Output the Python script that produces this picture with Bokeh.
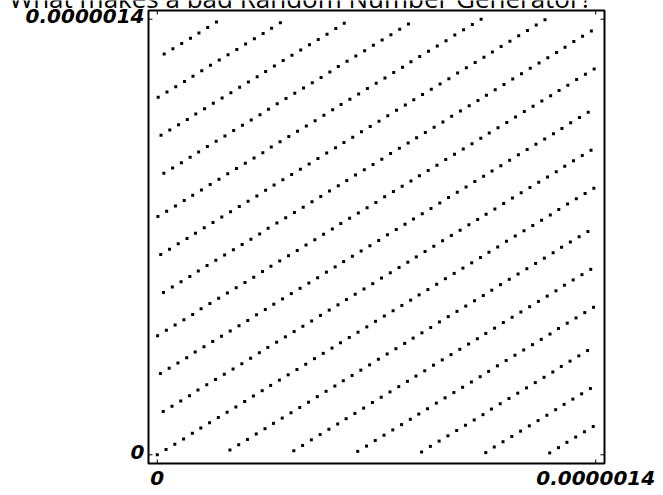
from bokeh.plotting import figure
from bokeh.models import Range1d, Label
from bokeh.embed import file_html
from bokeh.resources import INLINE

title_text = "What makes a bad Random Number Generator?"

# axis ticks (data units)
tick_vals = [0.0, 1.4e-6]
tick_labels = ["0", "0.0000014"]

# points, in units of 1e-9 (grouped by diagonal streak)
x_e9 = [
    1253, 1281, 1308, 1336, 1364, 1392,
    1049, 1076, 1104, 1132, 1160, 1188, 1216, 1244, 1272, 1299, 1327, 1355, 1383,
    844, 872, 900, 928, 956, 984, 1012, 1040, 1067, 1095, 1123, 1151, 1179, 1207, 1235, 1263, 1290, 1318, 1346, 1374,
    640, 668, 696, 724, 752, 780, 808, 835, 863, 891, 919, 947, 975, 1003, 1031, 1058, 1086, 1114, 1142, 1170, 1198, 1226, 1254, 1281, 1309, 1337, 1365, 1393,
    436, 464, 492, 520, 548, 576, 603, 631, 659, 687, 715, 743, 771, 799, 826, 854, 882, 910, 938, 966, 994, 1022, 1049, 1077, 1105, 1133, 1161, 1189, 1217, 1245, 1273, 1300, 1328, 1356, 1384,
    232, 260, 288, 316, 344, 371, 399, 427, 455, 483, 511, 539, 567, 594, 622, 650, 678, 706, 734, 762, 790, 817, 845, 873, 901, 929, 957, 985, 1013, 1041, 1068, 1096, 1124, 1152, 1180, 1208, 1236, 1264, 1291, 1319, 1347, 1375,
    0, 28, 56, 84, 112, 139, 167, 195, 223, 251, 279, 307, 335, 362, 390, 418, 446, 474, 502, 530, 558, 585, 613, 641, 669, 697, 725, 753, 781, 809, 836, 864, 892, 920, 948, 976, 1004, 1032, 1059, 1087, 1115, 1143, 1171, 1199, 1227, 1255, 1282, 1310, 1338, 1366, 1394,
    19, 47, 75, 103, 130, 158, 186, 214, 242, 270, 298, 326, 353, 381, 409, 437, 465, 493, 521, 549, 577, 604, 632, 660, 688, 716, 744, 772, 800, 827, 855, 883, 911, 939, 967, 995, 1023, 1050, 1078, 1106, 1134, 1162, 1190, 1218, 1246, 1274, 1301, 1329, 1357, 1385,
    10, 38, 66, 94, 121, 149, 177, 205, 233, 261, 289, 317, 345, 372, 400, 428, 456, 484, 512, 540, 568, 595, 623, 651, 679, 707, 735, 763, 791, 818, 846, 874, 902, 930, 958, 986, 1014, 1042, 1069, 1097, 1125, 1153, 1181, 1209, 1237, 1265, 1292, 1320, 1348, 1376,
    1, 29, 57, 85, 113, 140, 168, 196, 224, 252, 280, 308, 336, 363, 391, 419, 447, 475, 503, 531, 559, 586, 614, 642, 670, 698, 726, 754, 782, 810, 837, 865, 893, 921, 949, 977, 1005, 1033, 1060, 1088, 1116, 1144, 1172, 1200, 1228, 1256, 1283, 1311, 1339, 1367, 1395,
    20, 48, 76, 104, 131, 159, 187, 215, 243, 271, 299, 327, 354, 382, 410, 438, 466, 494, 522, 550, 578, 605, 633, 661, 689, 717, 745, 773, 801, 828, 856, 884, 912, 940, 968, 996, 1024, 1051, 1079, 1107, 1135, 1163, 1191, 1219, 1247, 1275, 1302, 1330, 1358, 1386,
    11, 39, 67, 95, 122, 150, 178, 206, 234, 262, 290, 318, 346, 373, 401, 429, 457, 485, 513, 541, 569, 596, 624, 652, 680, 708, 736, 764, 792, 819, 847, 875, 903, 931, 959, 987, 1015, 1043, 1070, 1098, 1126, 1154, 1182, 1210, 1238,
    2, 30, 58, 86, 113, 141, 169, 197, 225, 253, 281, 309, 337, 364, 392, 420, 448, 476, 504, 532, 560, 587, 615, 643, 671, 699, 727, 755, 783, 810, 838, 866, 894, 922, 950, 978, 1006, 1034,
    21, 49, 77, 105, 132, 160, 188, 216, 244, 272, 300, 328, 355, 383, 411, 439, 467, 495, 523, 551, 578, 606, 634, 662, 690, 718, 746, 774, 802,
    12, 40, 68, 96, 123, 151, 179, 207, 235, 263, 291, 319, 346, 374, 402, 430, 458, 486, 514, 542, 570, 597,
    3, 31, 59, 87, 114, 142, 170, 198, 226, 254, 282, 310, 338, 365, 393,
    22, 50, 78, 106, 133, 161, 189,
]
y_e9 = [
    6, 23, 40, 57, 74, 91,
    7, 25, 42, 59, 76, 93, 110, 127, 145, 162, 179, 196, 213,
    9, 27, 44, 61, 78, 95, 112, 129, 147, 164, 181, 198, 215, 232, 249, 266, 284, 301, 318, 335,
    11, 28, 46, 63, 80, 97, 114, 131, 148, 166, 183, 200, 217, 234, 251, 268, 286, 303, 320, 337, 354, 371, 388, 406, 423, 440, 457, 474,
    13, 30, 48, 65, 82, 99, 116, 133, 150, 168, 185, 202, 219, 236, 253, 270, 288, 305, 322, 339, 356, 373, 390, 407, 425, 442, 459, 476, 493, 510, 527, 545, 562, 579, 596,
    15, 32, 49, 67, 84, 101, 118, 135, 152, 169, 187, 204, 221, 238, 255, 272, 289, 307, 324, 341, 358, 375, 392, 409, 427, 444, 461, 478, 495, 512, 529, 547, 564, 581, 598, 615, 632, 649, 667, 684, 701, 718,
    0, 17, 34, 51, 69, 86, 103, 120, 137, 154, 171, 189, 206, 223, 240, 257, 274, 291, 309, 326, 343, 360, 377, 394, 411, 429, 446, 463, 480, 497, 514, 531, 548, 566, 583, 600, 617, 634, 651, 668, 686, 703, 720, 737, 754, 771, 788, 806, 823, 840, 857,
    139, 156, 173, 190, 208, 225, 242, 259, 276, 293, 310, 328, 345, 362, 379, 396, 413, 430, 448, 465, 482, 499, 516, 533, 550, 568, 585, 602, 619, 636, 653, 670, 688, 705, 722, 739, 756, 773, 790, 808, 825, 842, 859, 876, 893, 910, 927, 945, 962, 979,
    261, 278, 295, 312, 330, 347, 364, 381, 398, 415, 432, 450, 467, 484, 501, 518, 535, 552, 569, 587, 604, 621, 638, 655, 672, 689, 707, 724, 741, 758, 775, 792, 809, 827, 844, 861, 878, 895, 912, 929, 947, 964, 981, 998, 1015, 1032, 1049, 1067, 1084, 1101,
    383, 400, 417, 434, 451, 469, 486, 503, 520, 537, 554, 571, 589, 606, 623, 640, 657, 674, 691, 709, 726, 743, 760, 777, 794, 811, 829, 846, 863, 880, 897, 914, 931, 949, 966, 983, 1000, 1017, 1034, 1051, 1068, 1086, 1103, 1120, 1137, 1154, 1171, 1188, 1206, 1223, 1240,
    522, 539, 556, 573, 591, 608, 625, 642, 659, 676, 693, 710, 728, 745, 762, 779, 796, 813, 830, 848, 865, 882, 899, 916, 933, 950, 968, 985, 1002, 1019, 1036, 1053, 1070, 1088, 1105, 1122, 1139, 1156, 1173, 1190, 1208, 1225, 1242, 1259, 1276, 1293, 1310, 1328, 1345, 1362,
    644, 661, 678, 695, 712, 730, 747, 764, 781, 798, 815, 832, 850, 867, 884, 901, 918, 935, 952, 970, 987, 1004, 1021, 1038, 1055, 1072, 1090, 1107, 1124, 1141, 1158, 1175, 1192, 1209, 1227, 1244, 1261, 1278, 1295, 1312, 1329, 1347, 1364, 1381, 1398,
    766, 783, 800, 817, 834, 851, 869, 886, 903, 920, 937, 954, 971, 989, 1006, 1023, 1040, 1057, 1074, 1091, 1109, 1126, 1143, 1160, 1177, 1194, 1211, 1229, 1246, 1263, 1280, 1297, 1314, 1331, 1349, 1366, 1383, 1400,
    905, 922, 939, 956, 973, 991, 1008, 1025, 1042, 1059, 1076, 1093, 1111, 1128, 1145, 1162, 1179, 1196, 1213, 1230, 1248, 1265, 1282, 1299, 1316, 1333, 1350, 1368, 1385,
    1027, 1044, 1061, 1078, 1095, 1112, 1130, 1147, 1164, 1181, 1198, 1215, 1232, 1250, 1267, 1284, 1301, 1318, 1335, 1352, 1370, 1387,
    1149, 1166, 1183, 1200, 1217, 1234, 1252, 1269, 1286, 1303, 1320, 1337, 1354, 1371, 1389,
    1288, 1305, 1322, 1339, 1356, 1373, 1391,
]

xs = [v * 1e-9 for v in x_e9]
ys = [v * 1e-9 for v in y_e9]

# ---- layout (pixels) ----
W, H = 660, 493
BOX_L, BOX_R, BOX_T, BOX_B = 148, 604, 10, 463
TITLE_CX, TITLE_Y = 300, -3
pad = 0.02 * tick_vals[1]
lo, hi = tick_vals[0] - pad, tick_vals[1] + pad
sx = (BOX_R - BOX_L) / (hi - lo)
sy = (BOX_B - BOX_T) / (hi - lo)
x_start = lo - BOX_L / sx
y_end = hi + BOX_T / sy

p = figure(
    width=W, height=H,
    x_range=Range1d(x_start, x_start + W / sx),
    y_range=Range1d(y_end - H / sy, y_end),
    x_axis_type=None, y_axis_type=None, min_border=0,
    output_backend="svg", toolbar_location=None,
    outline_line_color=None, background_fill_color="white", border_fill_color="white",
)

# frame box
p.quad(left=lo, right=hi, bottom=lo, top=hi, fill_color=None, line_color="black", line_width=2)

# inward frame ticks on all four sides
tl_x, tl_y = 4 / sx, 4 / sy
n = len(tick_vals)
p.segment(x0=tick_vals, y0=[lo] * n, x1=tick_vals, y1=[lo + tl_y] * n, line_color="black", line_width=1)
p.segment(x0=tick_vals, y0=[hi] * n, x1=tick_vals, y1=[hi - tl_y] * n, line_color="black", line_width=1)
p.segment(x0=[lo] * n, y0=tick_vals, x1=[lo + tl_x] * n, y1=tick_vals, line_color="black", line_width=1)
p.segment(x0=[hi] * n, y0=tick_vals, x1=[hi - tl_x] * n, y1=tick_vals, line_color="black", line_width=1)

# data points
p.scatter(xs, ys, marker="square", size=3, fill_color="black", line_color=None)

# tick labels
lab_style = dict(text_font="DejaVu Sans", text_font_style="bold italic",
                 text_font_size="20px", text_color="black")
for v, lab in zip(tick_vals, tick_labels):
    p.add_layout(Label(x=v, y=lo, text=lab, text_align="center", text_baseline="top",
                       x_offset=0, y_offset=-7, **lab_style))
    p.add_layout(Label(x=lo, y=v, text=lab, text_align="right", text_baseline="middle",
                       x_offset=-4, y_offset=3, **lab_style))

# title (cut off by the top edge, as in the reference)
p.add_layout(Label(
    x=x_start + TITLE_CX / sx, y=y_end - TITLE_Y / sy, text=title_text,
    text_font="Open Sans", text_font_size="26px", text_color="black",
    text_align="center", text_baseline="alphabetic",
))

open("out.html", "w").write(file_html(p, INLINE))
